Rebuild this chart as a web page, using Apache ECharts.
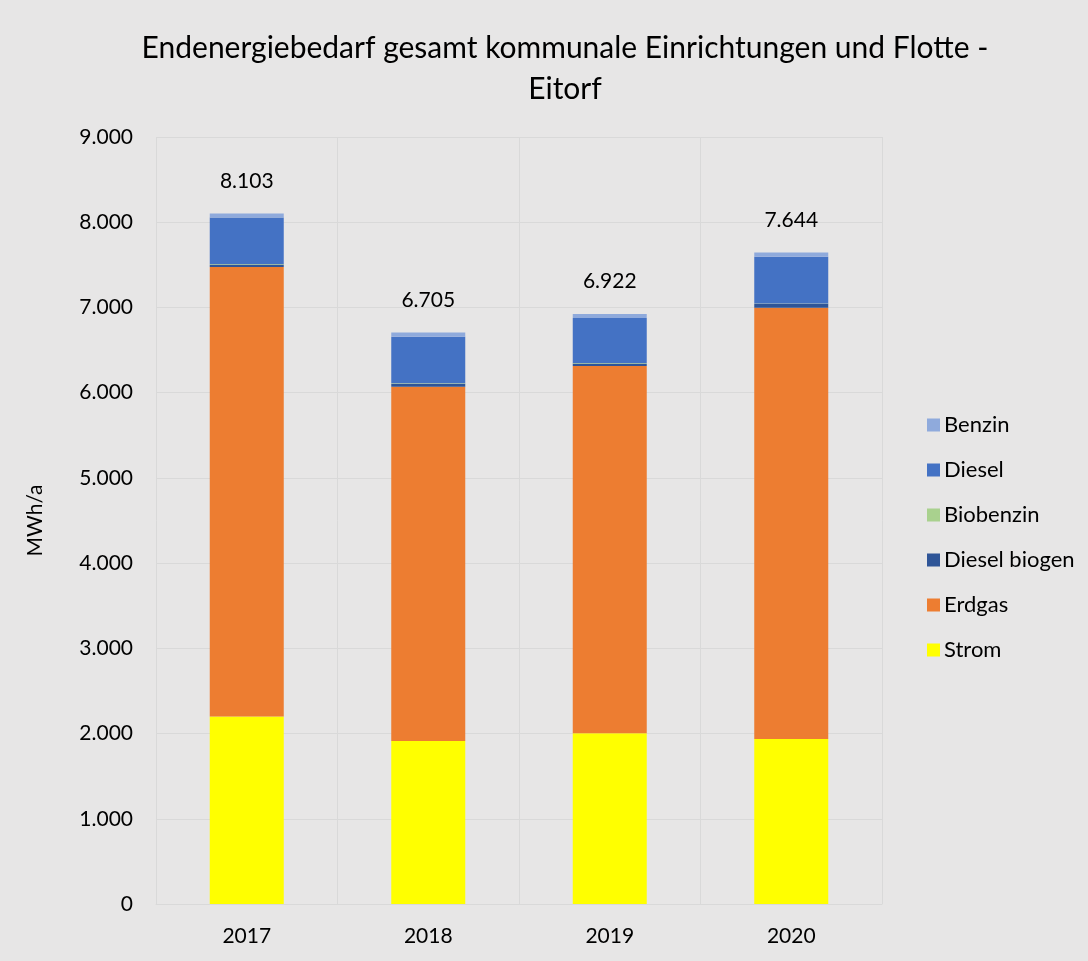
<!DOCTYPE html>
<html><head><meta charset="utf-8">
<script src="https://cdn.jsdelivr.net/npm/echarts@6/dist/echarts.min.js"></script>
<style>html,body{margin:0;padding:0;background:#e7e6e6;}#c{width:1088px;height:961px;}</style>
</head><body><div id="c"></div>
<script>
const years = ['2017','2018','2019','2020'];
const strom = [2200, 1913, 2003, 1936];
const erdgas = [5275, 4157, 4310, 5061];
const dieselBiogen = [30, 35, 30, 45];
const biobenzin = [5, 5, 5, 5];
const diesel = [545, 547, 527, 548];
const benzin = [48, 48, 47, 49];
const totals = [8103, 6705, 6922, 7644];
const yTicks = [0,1000,2000,3000,4000,5000,6000,7000,8000,9000];

const fmt = v => String(v).replace(/\B(?=(\d{3})+(?!\d))/g, '.');
const FONT = 'Lato, "Noto Sans", sans-serif';

const mk = (name, data, color) => ({
  name, type:'bar', stack:'s', data, barWidth:74,
  itemStyle:{color}, emphasis:{disabled:true}
});
const series = [
  mk('Strom', strom, '#ffff00'),
  mk('Erdgas', erdgas, '#ed7d31'),
  mk('Diesel biogen', dieselBiogen, '#2f5597'),
  mk('Biobenzin', biobenzin, '#a9d18e'),
  mk('Diesel', diesel, '#4472c4'),
  mk('Benzin', benzin, '#8faadc'),
];
series[5].label = {show:true, position:'top', distance:22, color:'#000', fontSize:21, fontFamily:FONT,
  formatter: p => fmt(totals[p.dataIndex])};

const chart = echarts.init(document.getElementById('c'), null, {renderer:'canvas'});
chart.setOption({
  backgroundColor:'#e7e6e6',
  animation:false,
  title:{text:'Endenergiebedarf gesamt kommunale Einrichtungen und Flotte -\nEitorf', left:560, textAlign:'center', top:23,
    textStyle:{fontFamily:FONT, fontWeight:'normal', fontSize:30, color:'#000', lineHeight:41}},
  grid:{left:156, right:206, top:137, bottom:57},
  legend:{orient:'vertical', left:922, top:409, itemWidth:13, itemHeight:13, itemGap:23, icon:'rect',
    data:['Benzin','Diesel','Biobenzin','Diesel biogen','Erdgas','Strom'],
    textStyle:{fontFamily:FONT, fontSize:22, lineHeight:22, color:'#000', padding:[0,0,0,-1]}},
  xAxis:{type:'category', data:years,
    axisLine:{lineStyle:{color:'#d9d9d9'}}, axisTick:{show:false},
    splitLine:{show:true, lineStyle:{color:'#d9d9d9'}},
    axisLabel:{color:'#000', fontSize:21, fontFamily:FONT, margin:22}},
  yAxis:{type:'value', min:0, max:9000, interval:1000,
    name:'MWh/a', nameLocation:'middle', nameGap:110, nameTextStyle:{color:'#000', fontSize:21, fontFamily:FONT},
    axisLine:{show:false}, axisTick:{show:false},
    splitLine:{lineStyle:{color:'#d9d9d9'}},
    axisLabel:{color:'#000', fontSize:21, fontFamily:FONT, margin:23, formatter: v => yTicks.includes(v) ? fmt(v) : ''}},
  series
});
</script></body></html>
